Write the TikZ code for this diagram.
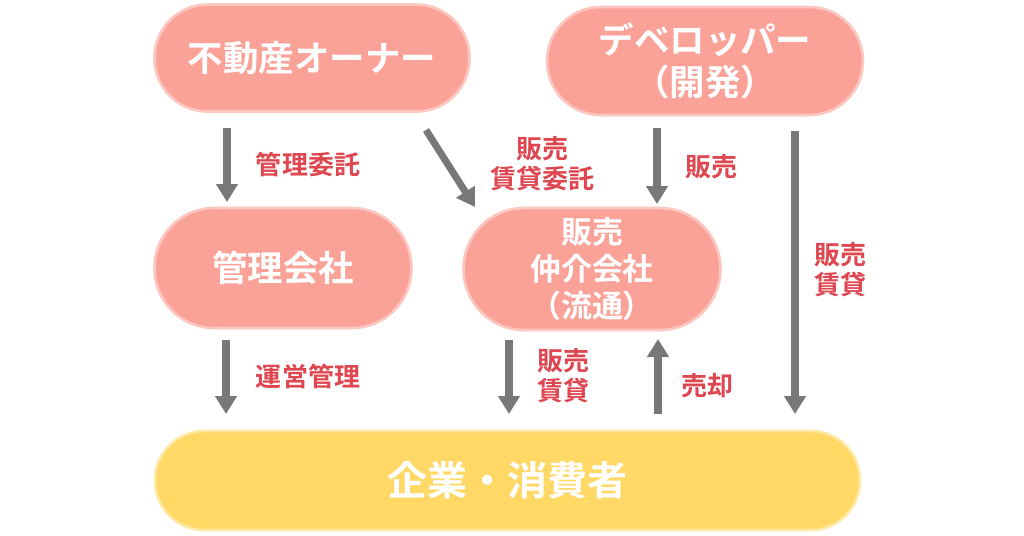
\documentclass[tikz,border=0pt]{standalone}
\usepackage{fontspec}
\setmainfont{Noto Sans CJK JP}[BoldFont={* Bold}]
\usetikzlibrary{arrows.meta}
\definecolor{pinkbox}{HTML}{FAA298}
\definecolor{yellowbox}{HTML}{FFD866}
\definecolor{labelred}{HTML}{DE4650}
\definecolor{arrowgray}{HTML}{787878}
\tikzset{
    pill/.style={fill=pinkbox,draw=pinkbox!60,line width=1.5pt,text=white,align=center,
        inner sep=0pt,font=\bfseries\fontsize{20.2}{23.9}\selectfont},
    userpill/.style={pill,fill=yellowbox,draw=yellowbox!60,font=\bfseries\fontsize{22.8}{26}\selectfont},
    note/.style={text=labelred,align=center,inner sep=0pt,font=\bfseries\fontsize{14.8}{17}\selectfont},
    flow/.style={draw=arrowgray,line width=4pt,-{Triangle[width=0.42cm,length=0.36cm]}}
}
\begin{document}
\begin{tikzpicture}[x=0.02cm,y=-0.02cm]
\useasboundingbox (0,0) rectangle (1024,535);
% boxes
\node[pill,minimum width=6.3cm,minimum height=2.14cm,rounded corners=1.06cm] (owner) at (312,58) {不動産オーナー};
\node[pill,minimum width=6.32cm,minimum height=2.16cm,rounded corners=1.07cm] (dev) at (705,61) {デベロッパー\\（開発）};
\node[pill,minimum width=5.14cm,minimum height=2.4cm,rounded corners=1.19cm] (mgmt) at (283,268) {管理会社};
\node[pill,minimum width=5.14cm,minimum height=2.44cm,rounded corners=1.21cm,
    font=\bfseries\fontsize{17.6}{21}\selectfont] (broker) at (592,269) {販売\\仲介会社\\（流通）};
\node[userpill,minimum width=14.1cm,minimum height=1.98cm,rounded corners=0.98cm] (user) at (507.5,480.5) {企業・消費者};
% arrow ends
\coordinate (a1s) at (227,128); \coordinate (a1e) at (227,202);
\coordinate (a2s) at (426,130); \coordinate (a2e) at (475,207);
\coordinate (a3s) at (657,128); \coordinate (a3e) at (657,204);
\coordinate (a4s) at (795,131); \coordinate (a4e) at (795,414);
\coordinate (a5s) at (226,340); \coordinate (a5e) at (226,414);
\coordinate (a6s) at (509,340); \coordinate (a6e) at (509,414);
\coordinate (a7s) at (658,414); \coordinate (a7e) at (658,339);
\draw[flow] (a1s)--(a1e);
\draw[flow] (a2s)--(a2e);
\draw[flow] (a3s)--(a3e);
\draw[flow] (a4s)--(a4e);
\draw[flow] (a5s)--(a5e);
\draw[flow] (a6s)--(a6e);
\draw[flow] (a7s)--(a7e);
% labels
\node[note] (n1) at (308,165) {管理委託};
\node[note] (n2) at (542,164) {販売\\賃貸委託};
\node[note] (n3) at (711,167) {販売};
\node[note] (n4) at (840,270) {販売\\賃貸};
\node[note] (n5) at (308,377) {運営管理};
\node[note] (n6) at (563,376) {販売\\賃貸};
\node[note] (n7) at (707,386) {売却};
\end{tikzpicture}
\end{document}
